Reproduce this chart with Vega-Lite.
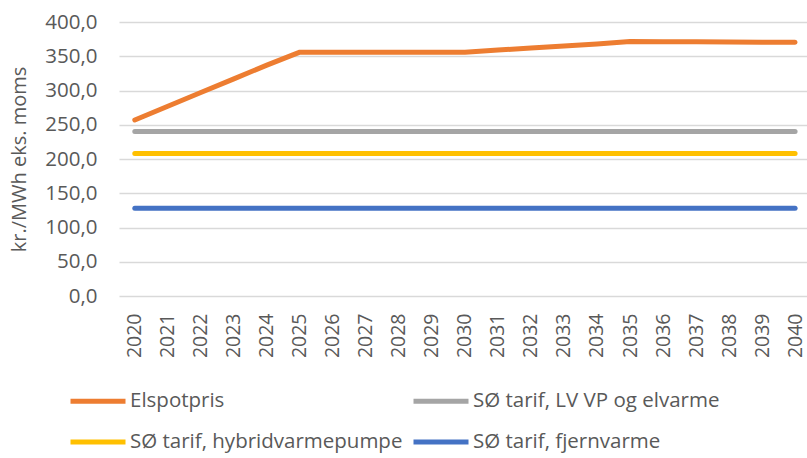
{
  "$schema": "https://vega.github.io/schema/vega-lite/v6.json",
  "autosize": "none",
  "width": 688,
  "height": 274,
  "padding": {"left": 119, "top": 22, "right": 0, "bottom": 162},
  "background": "white",
  "config": {
    "view": {"stroke": null},
    "font": "Open Sans",
    "locale": {"number": {"decimal": ",", "thousands": ".", "grouping": [3], "currency": ["", " kr."]}}
  },
  "data": {
    "values": [
      {"year": "2020", "series": "Elspotpris", "value": 257},
      {"year": "2021", "series": "Elspotpris", "value": 277},
      {"year": "2022", "series": "Elspotpris", "value": 297},
      {"year": "2023", "series": "Elspotpris", "value": 317},
      {"year": "2024", "series": "Elspotpris", "value": 337},
      {"year": "2025", "series": "Elspotpris", "value": 356},
      {"year": "2026", "series": "Elspotpris", "value": 356},
      {"year": "2027", "series": "Elspotpris", "value": 356},
      {"year": "2028", "series": "Elspotpris", "value": 356},
      {"year": "2029", "series": "Elspotpris", "value": 356},
      {"year": "2030", "series": "Elspotpris", "value": 356},
      {"year": "2031", "series": "Elspotpris", "value": 359},
      {"year": "2032", "series": "Elspotpris", "value": 362},
      {"year": "2033", "series": "Elspotpris", "value": 365},
      {"year": "2034", "series": "Elspotpris", "value": 368},
      {"year": "2035", "series": "Elspotpris", "value": 371.5},
      {"year": "2036", "series": "Elspotpris", "value": 371.2},
      {"year": "2037", "series": "Elspotpris", "value": 371},
      {"year": "2038", "series": "Elspotpris", "value": 370.8},
      {"year": "2039", "series": "Elspotpris", "value": 370.5},
      {"year": "2040", "series": "Elspotpris", "value": 370.3},
      {"year": "2020", "series": "SØ tarif, LV VP og elvarme", "value": 240},
      {"year": "2021", "series": "SØ tarif, LV VP og elvarme", "value": 240},
      {"year": "2022", "series": "SØ tarif, LV VP og elvarme", "value": 240},
      {"year": "2023", "series": "SØ tarif, LV VP og elvarme", "value": 240},
      {"year": "2024", "series": "SØ tarif, LV VP og elvarme", "value": 240},
      {"year": "2025", "series": "SØ tarif, LV VP og elvarme", "value": 240},
      {"year": "2026", "series": "SØ tarif, LV VP og elvarme", "value": 240},
      {"year": "2027", "series": "SØ tarif, LV VP og elvarme", "value": 240},
      {"year": "2028", "series": "SØ tarif, LV VP og elvarme", "value": 240},
      {"year": "2029", "series": "SØ tarif, LV VP og elvarme", "value": 240},
      {"year": "2030", "series": "SØ tarif, LV VP og elvarme", "value": 240},
      {"year": "2031", "series": "SØ tarif, LV VP og elvarme", "value": 240},
      {"year": "2032", "series": "SØ tarif, LV VP og elvarme", "value": 240},
      {"year": "2033", "series": "SØ tarif, LV VP og elvarme", "value": 240},
      {"year": "2034", "series": "SØ tarif, LV VP og elvarme", "value": 240},
      {"year": "2035", "series": "SØ tarif, LV VP og elvarme", "value": 240},
      {"year": "2036", "series": "SØ tarif, LV VP og elvarme", "value": 240},
      {"year": "2037", "series": "SØ tarif, LV VP og elvarme", "value": 240},
      {"year": "2038", "series": "SØ tarif, LV VP og elvarme", "value": 240},
      {"year": "2039", "series": "SØ tarif, LV VP og elvarme", "value": 240},
      {"year": "2040", "series": "SØ tarif, LV VP og elvarme", "value": 240},
      {"year": "2020", "series": "SØ tarif, hybridvarmepumpe", "value": 208},
      {"year": "2021", "series": "SØ tarif, hybridvarmepumpe", "value": 208},
      {"year": "2022", "series": "SØ tarif, hybridvarmepumpe", "value": 208},
      {"year": "2023", "series": "SØ tarif, hybridvarmepumpe", "value": 208},
      {"year": "2024", "series": "SØ tarif, hybridvarmepumpe", "value": 208},
      {"year": "2025", "series": "SØ tarif, hybridvarmepumpe", "value": 208},
      {"year": "2026", "series": "SØ tarif, hybridvarmepumpe", "value": 208},
      {"year": "2027", "series": "SØ tarif, hybridvarmepumpe", "value": 208},
      {"year": "2028", "series": "SØ tarif, hybridvarmepumpe", "value": 208},
      {"year": "2029", "series": "SØ tarif, hybridvarmepumpe", "value": 208},
      {"year": "2030", "series": "SØ tarif, hybridvarmepumpe", "value": 208},
      {"year": "2031", "series": "SØ tarif, hybridvarmepumpe", "value": 208},
      {"year": "2032", "series": "SØ tarif, hybridvarmepumpe", "value": 208},
      {"year": "2033", "series": "SØ tarif, hybridvarmepumpe", "value": 208},
      {"year": "2034", "series": "SØ tarif, hybridvarmepumpe", "value": 208},
      {"year": "2035", "series": "SØ tarif, hybridvarmepumpe", "value": 208},
      {"year": "2036", "series": "SØ tarif, hybridvarmepumpe", "value": 208},
      {"year": "2037", "series": "SØ tarif, hybridvarmepumpe", "value": 208},
      {"year": "2038", "series": "SØ tarif, hybridvarmepumpe", "value": 208},
      {"year": "2039", "series": "SØ tarif, hybridvarmepumpe", "value": 208},
      {"year": "2040", "series": "SØ tarif, hybridvarmepumpe", "value": 208},
      {"year": "2020", "series": "SØ tarif, fjernvarme", "value": 128},
      {"year": "2021", "series": "SØ tarif, fjernvarme", "value": 128},
      {"year": "2022", "series": "SØ tarif, fjernvarme", "value": 128},
      {"year": "2023", "series": "SØ tarif, fjernvarme", "value": 128},
      {"year": "2024", "series": "SØ tarif, fjernvarme", "value": 128},
      {"year": "2025", "series": "SØ tarif, fjernvarme", "value": 128},
      {"year": "2026", "series": "SØ tarif, fjernvarme", "value": 128},
      {"year": "2027", "series": "SØ tarif, fjernvarme", "value": 128},
      {"year": "2028", "series": "SØ tarif, fjernvarme", "value": 128},
      {"year": "2029", "series": "SØ tarif, fjernvarme", "value": 128},
      {"year": "2030", "series": "SØ tarif, fjernvarme", "value": 128},
      {"year": "2031", "series": "SØ tarif, fjernvarme", "value": 128},
      {"year": "2032", "series": "SØ tarif, fjernvarme", "value": 128},
      {"year": "2033", "series": "SØ tarif, fjernvarme", "value": 128},
      {"year": "2034", "series": "SØ tarif, fjernvarme", "value": 128},
      {"year": "2035", "series": "SØ tarif, fjernvarme", "value": 128},
      {"year": "2036", "series": "SØ tarif, fjernvarme", "value": 128},
      {"year": "2037", "series": "SØ tarif, fjernvarme", "value": 128},
      {"year": "2038", "series": "SØ tarif, fjernvarme", "value": 128},
      {"year": "2039", "series": "SØ tarif, fjernvarme", "value": 128},
      {"year": "2040", "series": "SØ tarif, fjernvarme", "value": 128}
    ]
  },
  "mark": {"type": "line", "strokeWidth": 5, "strokeCap": "round", "strokeJoin": "round"},
  "encoding": {
    "x": {
      "field": "year",
      "type": "ordinal",
      "scale": {"type": "point", "padding": 0.42, "align": 0.57},
      "axis": {
        "title": null,
        "labelAngle": 270,
        "labelFont": "Open Sans",
        "labelFontSize": 19.5,
        "labelColor": "#595959",
        "labelPadding": 17,
        "ticks": false,
        "tickSize": 0,
        "domain": false,
        "grid": false
      }
    },
    "y": {
      "field": "value",
      "type": "quantitative",
      "scale": {"domain": [0, 400], "nice": false, "zero": true},
      "axis": {
        "title": "kr./MWh eks. moms",
        "titleFont": "Open Sans",
        "titleFontSize": 20,
        "titleFontWeight": "normal",
        "titleColor": "#595959",
        "titlePadding": 15,
        "values": [0, 50, 100, 150, 200, 250, 300, 350, 400],
        "format": ".1f",
        "labelFont": "Open Sans",
        "labelFontSize": 20.5,
        "labelColor": "#595959",
        "labelPadding": 22,
        "ticks": false,
        "tickSize": 0,
        "domain": false,
        "grid": true,
        "gridColor": "#D9D9D9",
        "gridWidth": 1.5
      }
    },
    "color": {
      "field": "series",
      "type": "nominal",
      "sort": ["Elspotpris", "SØ tarif, LV VP og elvarme", "SØ tarif, hybridvarmepumpe", "SØ tarif, fjernvarme"],
      "scale": {
        "domain": ["Elspotpris", "SØ tarif, LV VP og elvarme", "SØ tarif, hybridvarmepumpe", "SØ tarif, fjernvarme"],
        "range": ["#ED7D31", "#A5A5A5", "#FFC000", "#4472C4"]
      },
      "legend": {
        "title": null,
        "orient": "none",
        "legendX": -51,
        "legendY": 349,
        "direction": "horizontal",
        "columns": 2,
        "columnPadding": 0,
        "rowPadding": -8,
        "symbolType": "stroke",
        "symbolSize": 3025,
        "symbolStrokeWidth": 5,
        "labelFont": "Open Sans",
        "labelFontSize": 20.5,
        "labelColor": "#595959",
        "labelOffset": 2,
        "labelLimit": 400
      }
    }
  }
}
